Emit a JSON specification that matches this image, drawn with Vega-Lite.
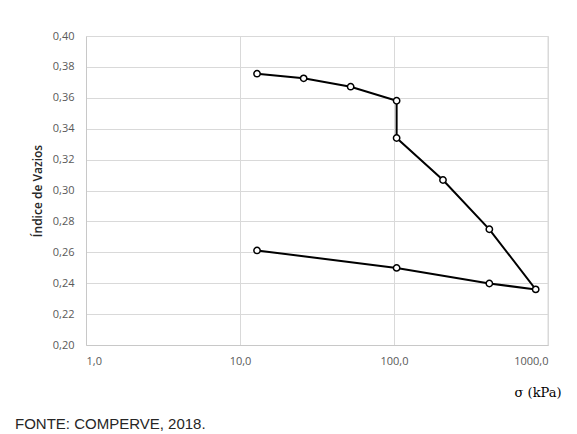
{
  "$schema": "https://vega.github.io/schema/vega-lite/v6.json",
  "width": 462,
  "height": 309,
  "autosize": {"type": "none"},
  "padding": {"left": 86, "top": 36, "right": 29, "bottom": 89},
  "background": "white",
  "config": {
    "locale": {"number": {"decimal": ",", "thousands": ".", "grouping": [3], "currency": ["", ""]}},
    "view": {"stroke": null},
    "axis": {
      "labelFont": "Open Sans",
      "labelFontSize": 11,
      "labelColor": "#595959",
      "gridColor": "#d9d9d9",
      "gridWidth": 1,
      "domainColor": "#c8c8c8",
      "ticks": false
    }
  },
  "title": {
    "text": "FONTE: COMPERVE, 2018.",
    "orient": "bottom",
    "anchor": "start",
    "frame": "group",
    "dx": -71,
    "offset": 18,
    "font": "Liberation Sans",
    "fontSize": 15,
    "fontWeight": "normal",
    "color": "#262626"
  },
  "data": {
    "values": [
      {"ordem": 1, "sigma": 12.9, "e": 0.3756},
      {"ordem": 2, "sigma": 25.9, "e": 0.3726},
      {"ordem": 3, "sigma": 52.3, "e": 0.3672},
      {"ordem": 4, "sigma": 104, "e": 0.3581},
      {"ordem": 5, "sigma": 104, "e": 0.334},
      {"ordem": 6, "sigma": 208, "e": 0.3068},
      {"ordem": 7, "sigma": 416, "e": 0.2749},
      {"ordem": 8, "sigma": 832, "e": 0.236},
      {"ordem": 9, "sigma": 416, "e": 0.2398},
      {"ordem": 10, "sigma": 104, "e": 0.2499},
      {"ordem": 11, "sigma": 12.9, "e": 0.2612}
    ]
  },
  "encoding": {
    "x": {
      "field": "sigma",
      "type": "quantitative",
      "scale": {"type": "log", "domain": [1, 1000], "nice": false},
      "axis": {
        "values": [1, 10, 100, 1000],
        "format": ".1f",
        "labelPadding": 10,
        "title": "σ (kPa)",
        "titleFont": "DejaVu Serif",
        "titleFontSize": 13,
        "titleFontWeight": "normal",
        "titleColor": "#000000",
        "titleAnchor": "end",
        "titleAlign": "right",
        "titleX": 475,
        "titleY": 51,
        "titleBaseline": "alphabetic"
      }
    },
    "y": {
      "field": "e",
      "type": "quantitative",
      "scale": {"domain": [0.2, 0.4], "nice": false, "zero": false},
      "axis": {
        "values": [0.2, 0.22, 0.24, 0.26, 0.28, 0.3, 0.32, 0.34, 0.36, 0.38, 0.4],
        "format": ".2f",
        "labelPadding": 12,
        "title": "Índice de Vazios",
        "titleFont": "Open Sans",
        "titleFontSize": 12,
        "titleFontWeight": 600,
        "titleColor": "#262626",
        "titlePadding": 8
      }
    },
    "order": {"field": "ordem", "type": "quantitative"}
  },
  "layer": [
    {
      "mark": {"type": "rule", "color": "#d9d9d9", "strokeWidth": 1},
      "data": {"values": [{"v": 1000}]},
      "encoding": {"x": {"field": "v", "type": "quantitative"}, "y": null, "order": null}
    },
    {
      "mark": {"type": "line", "color": "#000000", "strokeWidth": 2}
    },
    {
      "mark": {"type": "point", "shape": "circle", "filled": true, "fill": "white", "stroke": "#000000", "strokeWidth": 1.5, "size": 40, "opacity": 1}
    }
  ]
}
